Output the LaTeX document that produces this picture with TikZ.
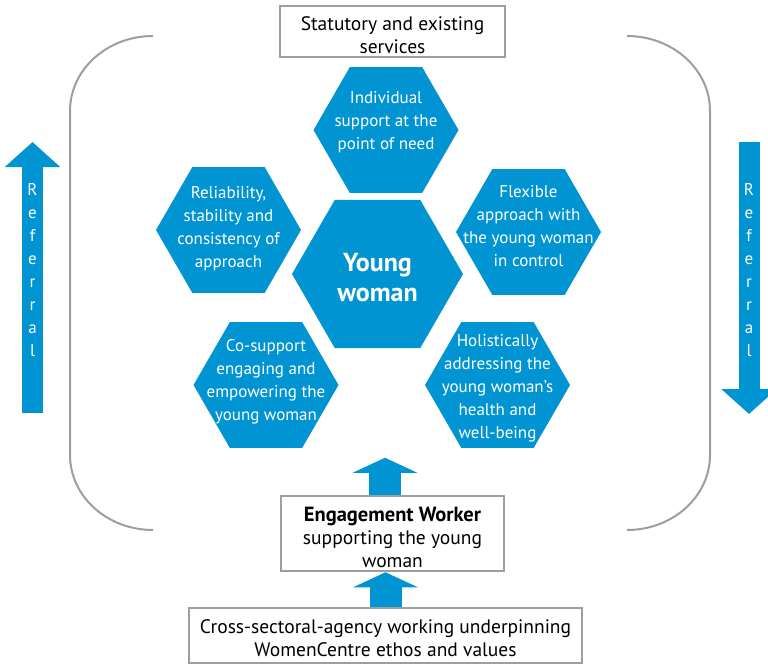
\documentclass[tikz,border=0pt]{standalone}
\usepackage{fontspec}
\setmainfont{PT Sans}
\usetikzlibrary{arrows.meta}

\definecolor{wcblue}{RGB}{0,148,211}
\definecolor{wcgrey}{RGB}{158,158,158}

\tikzset{
    hexfill/.style={fill=wcblue},
    hextext/.style={text=white, align=center, inner sep=0pt, font=\fontsize{17}{23}\selectfont},
    greybox/.style={draw=wcgrey, line width=2.5pt, fill=white, inner sep=0pt},
    boxtext/.style={align=center, inner sep=0pt, font=\fontsize{19.5}{23}\selectfont},
    bigarrow/.style={draw=wcblue, line width=32pt, -{Triangle[length=15pt, width=64pt]}},
    sidearrow/.style={draw=wcblue, line width=21pt, -{Triangle[length=25pt, width=54pt]}},
    reftext/.style={text=white, anchor=base, inner sep=0pt, font=\fontsize{17}{23}\selectfont},
    bracket/.style={draw=wcgrey, line width=2pt}
}

% flat-topped hexagon: centre x, centre y, radius
\newcommand{\hexcell}[3]{%
    \fill[hexfill] (#1,#2) +(0:#3pt) -- +(60:#3pt) -- +(120:#3pt) -- +(180:#3pt) -- +(240:#3pt) -- +(300:#3pt) -- cycle;
}

\begin{document}
\begin{tikzpicture}[x=1pt, y=-1pt]
    \useasboundingbox (0,0) rectangle (768,665);

    % grey brackets
    \draw[bracket] (153,36) arc[start angle=-90, end angle=-180, x radius=83, y radius=75] -- (70,455)
        arc[start angle=180, end angle=90, x radius=83, y radius=75];
    \draw[bracket] (627,36) arc[start angle=-90, end angle=0, x radius=83, y radius=75] -- (710,455)
        arc[start angle=0, end angle=90, x radius=83, y radius=75];

    % hexagons
    \hexcell{386}{130}{72.5}
    \hexcell{228.5}{230}{72.5}
    \hexcell{528.5}{232}{72.5}
    \hexcell{266}{385}{72.5}
    \hexcell{497.5}{385}{72.5}
    \hexcell{377.5}{274}{85.5}

    \node[hextext] (need) at (386,122) {Individual\\support at the\\point of need};
    \node[hextext] (reliable) at (228.5,229) {Reliability,\\stability and\\consistency of\\approach};
    \node[hextext] (flexible) at (528.5,226) {Flexible\\approach with\\the young woman\\in control};
    \node[hextext] (cosupport) at (266,382) {Co-support\\engaging and\\empowering the\\young woman};
    \node[hextext] (holistic) at (497.5,388) {Holistically\\addressing the\\young woman's\\health and\\well-being};
    \node[hextext, font=\bfseries\fontsize{26}{30}\selectfont] (young) at (377.5,278) {Young\\woman};

    % boxes
    \node[greybox, minimum width=225pt, minimum height=51pt] (statutory) at (392.5,31.5) {};
    \node[boxtext] (statutorytext) at ([yshift=-4pt]statutory.center) {Statutory and existing\\services};
    \node[greybox, minimum width=223pt, minimum height=75pt] (worker) at (392.5,533.5) {};
    \node[boxtext] (workertext) at ([yshift=-3.5pt]worker.center) {{\bfseries\fontsize{20.5}{23}\selectfont Engagement Worker}\\supporting the young\\woman};
    \node[greybox, minimum width=393pt, minimum height=55pt] (ethos) at (385.5,635.5) {};
    \node[boxtext] (ethostext) at ([yshift=-3pt]ethos.center) {Cross-sectoral-agency working underpinning\\WomenCentre ethos and values};

    % block arrows
    \draw[bigarrow] ([xshift=-7.5pt]worker.north) -- ++(0,-37);
    \draw[bigarrow] (ethos.north) -- (ethos.north |- worker.south);

    % referral arrows
    \coordinate (lfoot) at (32.5,413);
    \coordinate (ltip) at (32.5,142);
    \coordinate (rtop) at (749,142);
    \coordinate (rtip) at (749,414);
    \draw[sidearrow] (lfoot) -- (ltip);
    \draw[sidearrow] (rtop) -- (rtip);
    \foreach \ch [count=\i] in {R,e,f,e,r,r,a,l} {
        \node[reftext] (lref\i) at (32.5,{172+23*\i}) {\ch};
        \node[reftext] (rref\i) at (749,{172+23*\i}) {\ch};
    }
\end{tikzpicture}
\end{document}
